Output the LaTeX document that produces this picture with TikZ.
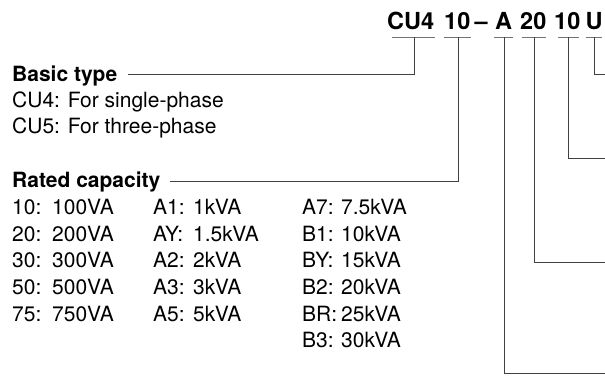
\documentclass[tikz,border=0pt]{standalone}
\usepackage{fontspec}
\setmainfont{TeX Gyre Heros}
\begin{document}
\begin{tikzpicture}[x=1pt,y=-1pt,
  txt/.style={anchor=base west,inner sep=0pt,font=\fontsize{21}{25}\selectfont},
  hd/.style={txt,font=\fontsize{21}{25}\selectfont\bfseries},
  ttl/.style={anchor=base west,inner sep=0pt,font=\fontsize{23.5}{28}\selectfont\bfseries},
  conn/.style={draw=black!75,line width=0.8pt},
  bar/.style={draw=black!55,line width=0.9pt}]
\useasboundingbox (0,0) rectangle (605,383);
% title segments
\node[ttl] (t1) at (387,29) {CU4};
\node[ttl] (t2) at (444,29) {10};
\node[ttl] (t3) at (474.5,29) {–};
\node[ttl] (t4) at (495,29) {A};
\node[ttl] (t5) at (520,29) {20};
\node[ttl] (t6) at (554,29) {10};
\node[ttl] (t7) at (585.5,29) {U};
% underline bars
\coordinate (b1) at (414,37);
\coordinate (b2) at (458,37);
\coordinate (b4) at (504,37);
\coordinate (b5) at (534,37);
\coordinate (b6) at (568.5,37);
\coordinate (b7) at (594,37);
\draw[bar] (392,37) -- (435,37);
\draw[bar] (444,37) -- (471,37);
\draw[bar] (494,37) -- (513,37);
\draw[bar] (522,37) -- (546,37);
\draw[bar] (558,37) -- (579,37);
\draw[bar] (586,37) -- (602,37);
% left labels
\node[hd] (basic) at (12,81) {Basic type};
\node[txt] (cu4) at (12,107) {CU4: For single-phase};
\node[txt] (cu5) at (12,133) {CU5: For three-phase};
\node[hd] (rated) at (12,187) {Rated capacity};
% table
\foreach \k/\v/\r in {10/100VA/214,20/200VA/241,30/300VA/267,50/500VA/294,75/750VA/321}{
  \node[txt] (k\k) at (12,\r) {\k:};
  \node[txt] (v\k) at (52,\r) {\v};
}
\foreach \k/\v/\r in {A1/1kVA/214,AY/1.5kVA/241,A2/2kVA/267,A3/3kVA/294,A5/5kVA/321}{
  \node[txt] (k\k) at (153,\r) {\k:};
  \node[txt] (v\k) at (193,\r) {\v};
}
\foreach \k/\v/\r in {A7/7.5kVA/214,B1/10kVA/241,BY/15kVA/267,B2/20kVA/294,BR/25kVA/321,B3/30kVA/347}{
  \node[txt] (k\k) at (302,\r) {\k:};
  \node[txt] (v\k) at (341,\r) {\v};
}
% connector endpoints
\coordinate (e1) at (128,74);
\coordinate (e2) at (170,181.5);
\coordinate (e7) at (605,74);
\coordinate (e6) at (605,158);
\coordinate (e5) at (605,262);
\coordinate (e4) at (605,373);
\draw[conn] (b1) |- (e1);
\draw[conn] (b2) |- (e2);
\draw[conn] (b7) |- (e7);
\draw[conn] (b6) |- (e6);
\draw[conn] (b5) |- (e5);
\draw[conn] (b4) |- (e4);
\end{tikzpicture}
\end{document}
